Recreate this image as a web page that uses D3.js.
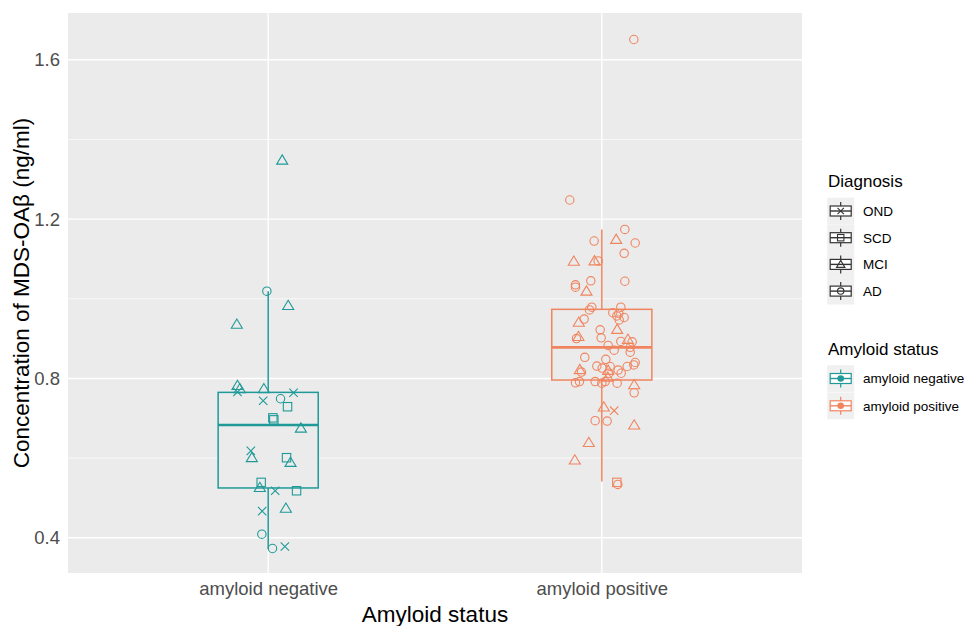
<!DOCTYPE html>
<html>
<head>
<meta charset="utf-8">
<script src="https://cdn.jsdelivr.net/npm/d3@7"></script>
<style>
  html, body { margin: 0; padding: 0; background: #fff; }
  svg { display: block; font-family: "Liberation Sans", Arial, sans-serif; }
</style>
</head>
<body>
<svg id="chart" width="971" height="626"></svg>
<script>
// ---------- data ----------
const categories = ["amyloid negative", "amyloid positive"];
const diagnoses = ["OND", "SCD", "MCI", "AD"];
const yTicks = [0.4, 0.8, 1.2, 1.6];
const yMinorTicks = [0.6, 1.0, 1.4];

// boxplot statistics per category
const boxLowerWhisker = [0.372, 0.541];
const boxQ1 = [0.525, 0.796];
const boxMedian = [0.683, 0.878];
const boxQ3 = [0.765, 0.9735];
const boxUpperWhisker = [1.019, 1.174];

// amyloid negative points
const negValues = [1.348, 1.019, 0.983, 0.936, 0.782, 0.774, 0.766, 0.774, 0.744, 0.749, 0.764, 0.729, 0.701, 0.696,
  0.675, 0.618, 0.601, 0.601, 0.589, 0.539, 0.526, 0.518, 0.518, 0.467, 0.474, 0.409, 0.373, 0.378];
const negJitter = [0.042, -0.004, 0.060, -0.094, -0.092, -0.085, -0.092, -0.013, -0.015, 0.037, 0.076, 0.058, 0.014, 0.017,
  0.098, -0.052, -0.049, 0.055, 0.067, -0.021, -0.025, 0.021, 0.085, -0.018, 0.053, -0.019, 0.013, 0.050];
const negDiagnosis = ["MCI", "AD", "MCI", "MCI", "MCI", "MCI", "OND", "MCI", "OND", "AD", "OND", "SCD", "SCD", "SCD",
  "MCI", "OND", "MCI", "SCD", "MCI", "SCD", "MCI", "OND", "SCD", "OND", "MCI", "AD", "AD", "OND"];

// amyloid positive points
const posValues = [1.651, 1.248, 1.174, 1.149, 1.145, 1.140, 1.114, 1.094, 1.095, 1.095, 1.045, 1.044, 1.035, 1.029,
  1.019, 0.979, 0.972, 0.979, 0.965, 0.963, 0.957, 0.953, 0.941, 0.949, 0.923, 0.947, 0.922, 0.902, 0.905, 0.900,
  0.883, 0.893, 0.898, 0.892, 0.878, 0.866, 0.871, 0.853, 0.848, 0.840, 0.834, 0.830, 0.813, 0.821, 0.831, 0.826,
  0.822, 0.816, 0.820, 0.813, 0.803, 0.830, 0.789, 0.792, 0.792, 0.788, 0.792, 0.788, 0.784, 0.764, 0.728, 0.719,
  0.694, 0.693, 0.683, 0.639, 0.595, 0.539, 0.534];
const posJitter = [0.096, -0.096, 0.069, 0.043, -0.023, 0.100, 0.067, -0.084, -0.022, -0.011, -0.033, 0.069, -0.079, -0.079,
  -0.046, -0.030, -0.037, 0.057, 0.033, 0.051, 0.045, 0.067, -0.069, -0.053, 0.046, 0.052, -0.005, -0.002, -0.070, -0.076,
  0.019, 0.057, 0.078, 0.091, 0.085, 0.085, 0.037, -0.051, 0.012, 0.100, 0.096, 0.076, 0.058, 0.049, -0.015, 0.001,
  -0.066, -0.061, 0.019, 0.022, 0.018, 0.025, -0.079, -0.067, -0.020, 0.000, 0.010, 0.046, 0.097, 0.097, 0.006, 0.037,
  -0.020, 0.016, 0.097, -0.039, -0.081, 0.045, 0.048];
const posDiagnosis = ["AD", "AD", "AD", "MCI", "AD", "AD", "AD", "MCI", "MCI", "AD", "AD", "AD", "AD", "AD",
  "MCI", "AD", "AD", "AD", "AD", "AD", "AD", "AD", "MCI", "AD", "MCI", "AD", "AD", "AD", "MCI", "AD",
  "AD", "AD", "MCI", "AD", "AD", "AD", "AD", "AD", "AD", "AD", "AD", "AD", "AD", "AD", "AD", "AD",
  "MCI", "AD", "MCI", "AD", "MCI", "AD", "AD", "AD", "AD", "AD", "AD", "AD", "MCI", "AD", "MCI", "OND",
  "AD", "AD", "MCI", "MCI", "MCI", "SCD", "AD"];

const colors = ["#1f9a98", "#f0845f"];

// ---------- layout ----------
const panel = { left: 68, right: 802, top: 13, bottom: 573 };
const svg = d3.select("#chart");

const x = d3.scaleLinear().domain([0.4, categories.length + 0.6]).range([panel.left, panel.right]);
const y = d3.scaleLinear().domain([0.3115, 1.7175]).range([panel.bottom, panel.top]);

// panel background
svg.append("rect").attr("x", panel.left).attr("y", panel.top)
  .attr("width", panel.right - panel.left).attr("height", panel.bottom - panel.top)
  .attr("fill", "#ebebeb");

const grid = svg.append("g");
grid.selectAll(".minor").data(yMinorTicks).join("line")
  .attr("x1", panel.left).attr("x2", panel.right)
  .attr("y1", d => y(d)).attr("y2", d => y(d))
  .attr("stroke", "#fff").attr("stroke-width", 0.7);
grid.selectAll(".major").data(yTicks).join("line")
  .attr("x1", panel.left).attr("x2", panel.right)
  .attr("y1", d => y(d)).attr("y2", d => y(d))
  .attr("stroke", "#fff").attr("stroke-width", 1.4);
grid.selectAll(".vmajor").data(categories).join("line")
  .attr("x1", (d, i) => x(i + 1)).attr("x2", (d, i) => x(i + 1))
  .attr("y1", panel.top).attr("y2", panel.bottom)
  .attr("stroke", "#fff").attr("stroke-width", 1.4);

// axes (ggplot-like: no domain line, no ticks)
const yAxis = d3.axisLeft(y).tickValues(yTicks).tickFormat(d3.format(".1f")).tickSize(0).tickPadding(8);
const yg = svg.append("g").attr("transform", `translate(${panel.left},0)`).call(yAxis);
yg.select(".domain").remove();
yg.selectAll("text").attr("font-size", 18.5).attr("fill", "#4d4d4d")
  .attr("font-family", '"Liberation Sans", Arial, sans-serif');

const xAxis = d3.axisBottom(x).tickValues(categories.map((d, i) => i + 1))
  .tickFormat((d) => categories[d - 1]).tickSize(0).tickPadding(9);
const xg = svg.append("g").attr("transform", `translate(0,${panel.bottom})`).call(xAxis);
xg.select(".domain").remove();
xg.selectAll("text").attr("font-size", 18.5).attr("fill", "#4d4d4d")
  .attr("font-family", '"Liberation Sans", Arial, sans-serif');

// axis titles
svg.append("text").attr("x", (panel.left + panel.right) / 2).attr("y", 622)
  .attr("text-anchor", "middle").attr("font-size", 22.5).attr("fill", "#000")
  .text("Amyloid status");
svg.append("text").attr("transform", `translate(29,${(panel.top + panel.bottom) / 2}) rotate(-90)`)
  .attr("text-anchor", "middle").attr("font-size", 22.5).attr("fill", "#000")
  .text("Concentration of MDS-OAβ (ng/ml)");

// ---------- boxplots ----------
const boxHalf = 0.15;
const boxes = svg.append("g");
categories.forEach((c, i) => {
  const cx = x(i + 1);
  const g = boxes.append("g").attr("stroke", colors[i]).attr("fill", "none");
  g.append("line").attr("x1", cx).attr("x2", cx)
    .attr("y1", y(boxUpperWhisker[i])).attr("y2", y(boxQ3[i])).attr("stroke-width", 1.5);
  g.append("line").attr("x1", cx).attr("x2", cx)
    .attr("y1", y(boxQ1[i])).attr("y2", y(boxLowerWhisker[i])).attr("stroke-width", 1.5);
  g.append("rect").attr("x", x(i + 1 - boxHalf)).attr("width", x(i + 1 + boxHalf) - x(i + 1 - boxHalf))
    .attr("y", y(boxQ3[i])).attr("height", y(boxQ1[i]) - y(boxQ3[i]))
    .attr("fill", "#ebebeb").attr("stroke-width", 1.5);
  g.append("line").attr("x1", x(i + 1 - boxHalf)).attr("x2", x(i + 1 + boxHalf))
    .attr("y1", y(boxMedian[i])).attr("y2", y(boxMedian[i])).attr("stroke-width", 2.6);
});

// ---------- shapes ----------
function drawShape(sel, shape, cx, cy, color, s) {
  s = s || 4.2;
  if (shape === "AD") {
    sel.append("circle").attr("cx", cx).attr("cy", cy).attr("r", s)
      .attr("fill", "none").attr("stroke", color).attr("stroke-width", 1.1);
  } else if (shape === "SCD") {
    sel.append("rect").attr("x", cx - s).attr("y", cy - s).attr("width", 2 * s).attr("height", 2 * s)
      .attr("fill", "none").attr("stroke", color).attr("stroke-width", 1.1);
  } else if (shape === "MCI") {
    const h = s * 1.1;
    sel.append("path")
      .attr("d", `M${cx},${cy - h * 1.15} L${cx + h * 1.2},${cy + h * 0.85} L${cx - h * 1.2},${cy + h * 0.85} Z`)
      .attr("fill", "none").attr("stroke", color).attr("stroke-width", 1.1);
  } else if (shape === "OND") {
    sel.append("path")
      .attr("d", `M${cx - s},${cy - s} L${cx + s},${cy + s} M${cx - s},${cy + s} L${cx + s},${cy - s}`)
      .attr("fill", "none").attr("stroke", color).attr("stroke-width", 1.1);
  }
}

const pts = svg.append("g");
const groups = [
  { values: negValues, jitter: negJitter, diag: negDiagnosis },
  { values: posValues, jitter: posJitter, diag: posDiagnosis }
];
groups.forEach((gr, i) => {
  gr.values.forEach((v, j) => {
    drawShape(pts, gr.diag[j], x(i + 1 + gr.jitter[j]), y(v), colors[i]);
  });
});

// ---------- legends ----------
const leg = svg.append("g");
function keyGlyph(g, kx, ky, color, inner) {
  // kx, ky : center of key
  g.append("rect").attr("x", kx - 13.5).attr("y", ky - 13.3).attr("width", 27).attr("height", 26.7)
    .attr("fill", "#f0f0f0");
  g.append("line").attr("x1", kx).attr("x2", kx).attr("y1", ky - 9).attr("y2", ky + 9)
    .attr("stroke", color).attr("stroke-width", 1.2);
  g.append("rect").attr("x", kx - 10.5).attr("y", ky - 5).attr("width", 21).attr("height", 10)
    .attr("fill", "#fff").attr("stroke", color).attr("stroke-width", 1.2);
  g.append("line").attr("x1", kx - 10.5).attr("x2", kx + 10.5).attr("y1", ky).attr("y2", ky)
    .attr("stroke", color).attr("stroke-width", 1.4);
  inner();
}

leg.append("text").attr("x", 828).attr("y", 187).attr("font-size", 17).attr("fill", "#000").text("Diagnosis");
diagnoses.forEach((d, i) => {
  const ky = 211 + i * 26.7;
  const kx = 840.7;
  keyGlyph(leg, kx, ky, "#333", () => drawShape(leg, d, kx, ky, "#333", 3.2));
  leg.append("text").attr("x", 863).attr("y", ky + 4.8).attr("font-size", 13.5).attr("fill", "#000").text(d);
});

leg.append("text").attr("x", 828).attr("y", 355).attr("font-size", 17).attr("fill", "#000").text("Amyloid status");
categories.forEach((c, i) => {
  const ky = 378.5 + i * 27.3;
  const kx = 840.7;
  keyGlyph(leg, kx, ky, colors[i], () =>
    leg.append("circle").attr("cx", kx).attr("cy", ky).attr("r", 3.3).attr("fill", colors[i]));
  leg.append("text").attr("x", 863).attr("y", ky + 4.8).attr("font-size", 13.5).attr("fill", "#000").text(c);
});
</script>
</body>
</html>
